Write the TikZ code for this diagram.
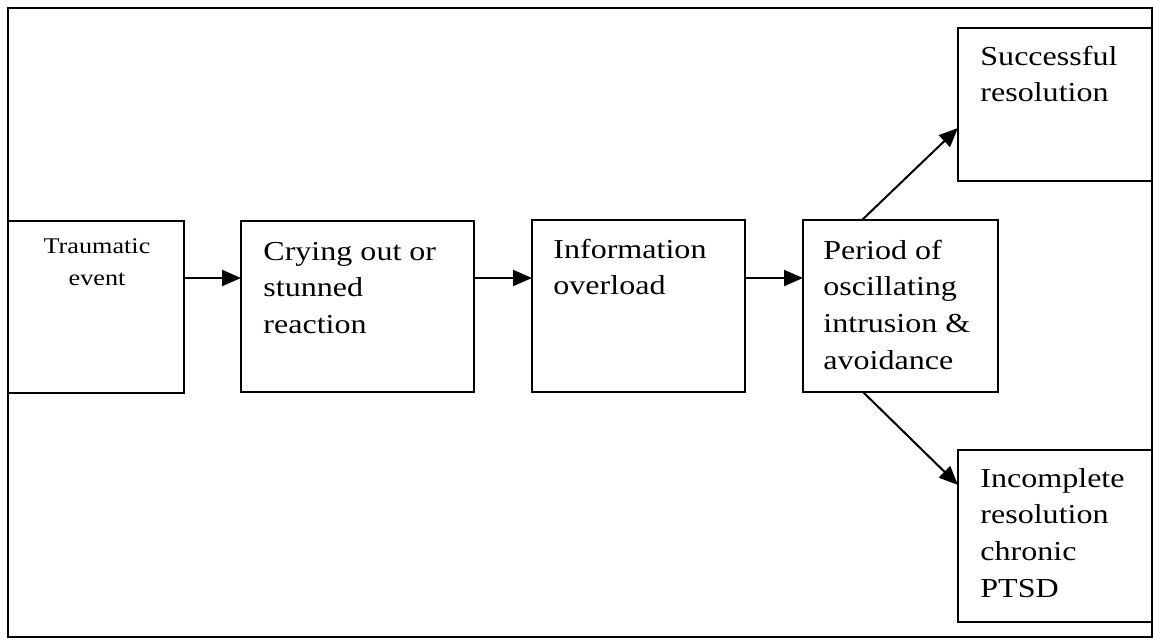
\documentclass[tikz,border=0pt]{standalone}
\usepackage{fontspec}
\setmainfont{Liberation Serif}[FakeStretch=1.17]
\usetikzlibrary{arrows.meta,calc}
\newcommand\leftlines[1]{\vtop{\halign{##\hfil\cr#1\crcr}}}
\newcommand\midlines[1]{\vtop{\halign{\hfil##\hfil\cr#1\crcr}}}
\begin{document}
\begin{tikzpicture}[x=0.5pt,y=-0.5pt,
  box/.style={draw,line width=1pt,rectangle,inner sep=0pt,outer sep=0pt,anchor=north west},
  lbl/.style={anchor=base west,inner sep=0pt,font=\fontsize{13.7}{18.35}\selectfont},
  arr/.style={line width=1pt,-{Triangle[length=9.5pt,width=8pt]}}]
\useasboundingbox[fill=white] (0,0) rectangle (1153,639);
\node[box,minimum width=572pt,minimum height=314.5pt] (frame) at (8,8) {};
\node[box,minimum width=88pt,minimum height=86pt] (b1) at (8,221) {};
\node[box,minimum width=116.5pt,minimum height=85.5pt] (b2) at (241,221) {};
\node[box,minimum width=106.5pt,minimum height=86pt] (b3) at (532,220) {};
\node[box,minimum width=97.5pt,minimum height=86pt] (b4) at (803,220) {};
\node[box,minimum width=97pt,minimum height=76.5pt] (b5) at (958,28) {};
\node[box,minimum width=97pt,minimum height=86pt] (b6) at (958,450) {};
\node[anchor=base,inner sep=0pt,font=\fontsize{11.2}{16}\selectfont] (t1) at ($(b1.north)+(1,32)$) {\midlines{Traumatic\cr event}};
\node[lbl] (t2) at ($(b2.north west)+(22,39)$) {\leftlines{Crying out or\cr stunned\cr reaction}};
\node[lbl] (t3) at ($(b3.north west)+(21,38)$) {\leftlines{Information\cr overload}};
\node[lbl] (t4) at ($(b4.north west)+(20,39)$) {\leftlines{Period of\cr oscillating\cr intrusion \&\cr avoidance}};
\node[lbl] (t5) at ($(b5.north west)+(22,37)$) {\leftlines{Successful\cr resolution}};
\node[lbl] (t6) at ($(b6.north west)+(22,37)$) {\leftlines{Incomplete\cr resolution\cr chronic\cr PTSD}};
\draw[arr] ($(b1.north east)+(0,57)$) -- ($(b2.north west)+(0,57)$);
\draw[arr] ($(b2.north east)+(0,57)$) -- ($(b3.north west)+(0,58)$);
\draw[arr] ($(b3.north east)+(0,58)$) -- ($(b4.north west)+(0,58)$);
\draw[arr] ($(b4.north)+(-38.5,0)$) -- ($(b5.north west)+(0,100)$);
\draw[arr] ($(b4.south)+(-37.5,0)$) -- ($(b6.north west)+(0,35)$);
\end{tikzpicture}
\end{document}
